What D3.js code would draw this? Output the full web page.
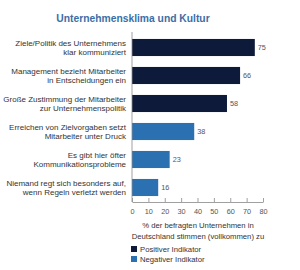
<!DOCTYPE html>
<html>
<head>
<meta charset="utf-8">
<script src="https://cdn.jsdelivr.net/npm/d3@7"></script>
<style>
  body { margin: 0; background: #fff; }
  svg { font-family: "Liberation Sans", Arial, sans-serif; }
</style>
</head>
<body>
<svg width="300" height="270"></svg>
<script>
// chart data
const labels = [
  ['Ziele/Politik des Unternehmens', 'klar kommuniziert'],
  ['Management bezieht Mitarbeiter', 'in Entscheidungen ein'],
  ['Große Zustimmung der Mitarbeiter', 'zur Unternehmenspolitik'],
  ['Erreichen von Zielvorgaben setzt', 'Mitarbeiter unter Druck'],
  ['Es gibt hier öfter', 'Kommunikationsprobleme'],
  ['Niemand regt sich besonders auf,', 'wenn Regeln verletzt werden']
];
const values = [75, 66, 58, 38, 23, 16];
const kinds = ['pos', 'pos', 'pos', 'neg', 'neg', 'neg'];
const ticks = [0, 10, 20, 30, 40, 50, 60, 70, 80];
const legendItems = [
  {key: 'pos', text: 'Positiver Indikator'},
  {key: 'neg', text: 'Negativer Indikator'}
];

const colors = {pos: '#0e1a3a', neg: '#2b70b0'};

const svg = d3.select('svg');

// title
svg.append('text')
  .attr('x', 133).attr('y', 22)
  .attr('text-anchor', 'middle')
  .attr('font-size', 10.3).attr('font-weight', 'bold')
  .attr('fill', '#3b6ea6')
  .text('Unternehmensklima und Kultur');

const x = d3.scaleLinear().domain([0, 80]).range([132, 263]);
const y = d3.scaleBand().domain(d3.range(values.length))
  .range([33.5, 201.5]).paddingInner(0.39).paddingOuter(0.195);

// bars
svg.selectAll('rect.bar').data(values).join('rect')
  .attr('class', 'bar')
  .attr('x', x(0))
  .attr('y', (d, i) => y(i))
  .attr('width', d => x(d) - x(0))
  .attr('height', y.bandwidth())
  .attr('fill', (d, i) => colors[kinds[i]]);

// value labels
svg.selectAll('text.val').data(values).join('text')
  .attr('class', 'val')
  .attr('x', d => x(d) + 3)
  .attr('y', (d, i) => y(i) + y.bandwidth() / 2 + 2.5)
  .attr('font-size', 7.3).attr('fill', '#555')
  .text(d => d);

// category labels
const cat = svg.selectAll('text.cat').data(labels).join('text')
  .attr('class', 'cat')
  .attr('text-anchor', 'end')
  .attr('font-size', 8).attr('fill', '#333');
cat.selectAll('tspan').data((d, i) => d.map(t => ({t, i}))).join('tspan')
  .attr('x', 126)
  .attr('y', (d, j) => y(d.i) + y.bandwidth() / 2 - 1.5 + j * 8.7)
  .text(d => d.t);

// y axis line
svg.append('line')
  .attr('x1', x(0)).attr('x2', x(0))
  .attr('y1', 32).attr('y2', 202)
  .attr('stroke', '#888').attr('stroke-width', 0.8);

// x axis (ticks pointing up)
const xAxis = svg.append('g')
  .attr('transform', 'translate(0,202)')
  .call(d3.axisBottom(x).tickValues(ticks).tickSizeInner(-4).tickSizeOuter(0).tickPadding(7));
xAxis.select('.domain').attr('stroke', '#888').attr('stroke-width', 0.8);
xAxis.selectAll('.tick line').attr('stroke', '#888').attr('stroke-width', 0.8);
xAxis.selectAll('.tick text').attr('font-size', 7.3).attr('fill', '#555')
  .attr('font-family', '"Liberation Sans", Arial, sans-serif');

// axis title
const at = svg.append('text').attr('text-anchor', 'middle')
  .attr('font-size', 7.7).attr('fill', '#333');
at.append('tspan').attr('x', 198).attr('y', 228).text('% der befragten Unternehmen in');
at.append('tspan').attr('x', 198).attr('y', 238.5).text('Deutschland stimmen (vollkommen) zu');

// legend
const lg = svg.selectAll('g.lg').data(legendItems).join('g')
  .attr('class', 'lg')
  .attr('transform', (d, i) => `translate(131,${246 + i * 10})`);
lg.append('rect').attr('width', 6).attr('height', 6)
  .attr('fill', d => colors[d.key]);
lg.append('text').attr('x', 9).attr('y', 5.8)
  .attr('font-size', 7.7).attr('fill', '#333')
  .text(d => d.text);
</script>
</body>
</html>
